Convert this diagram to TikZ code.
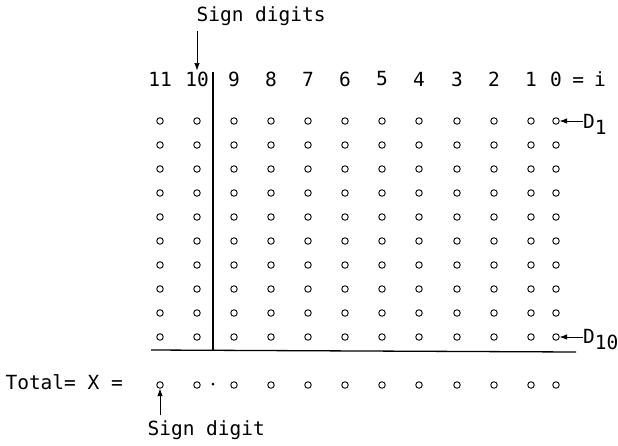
\documentclass[tikz,border=0pt]{standalone}
\usepackage{fontspec}
\setmonofont{DejaVu Sans Mono}
\usetikzlibrary{arrows.meta,positioning}
\begin{document}
\begin{tikzpicture}[x=1pt,y=-1pt,every node/.style={font=\ttfamily\fontsize{19.5}{22}\selectfont},head/.style={inner sep=1pt},bit/.style={circle,draw,line width=0.9pt,inner sep=0pt,minimum size=6.5pt},pt/.style={circle,fill,inner sep=0pt,minimum size=3pt},arrow/.style={-{Latex[length=2.6mm,width=1.9mm]},semithick},rule/.style={line width=1.3pt}]
\useasboundingbox (0,0) rectangle (618,445);
\node[anchor=west] (top) at (193,16) {Sign digits};
\foreach \i/\x in {11/160,10/197,9/234,8/271,7/308,6/345,5/382,4/419,3/457,2/494,1/531,0/556}{
  \node[head] (h\i) at (\x,79) {\i};
  \foreach \r in {1,...,10} \node[bit] (b\r-\i) at (\x,{121+24*(\r-1)}) {};
  \node[bit] (t\i) at (\x,385) {};
}
\node[head,anchor=west] (eq) at ([xshift=8pt]h0.east) {=\hspace{10pt}i};
\coordinate (vtop) at (213,72);\coordinate (vbot) at (213,351);
\coordinate (hl) at (151,350);\coordinate (hr) at (576,352);
\draw[rule] (vtop)--(vbot);\draw[rule] (hl)--(hr);
\node[pt] (radix) at (213,384) {};
\node[anchor=west] (tot) at (2,382) {Total=~X~=};
\node[anchor=west,inner sep=0pt] (d1) at (583,124) {D\raisebox{-6pt}{1}};
\node[anchor=west,inner sep=0pt] (d10) at (583,340) {D\raisebox{-6pt}{10}};
\node[anchor=west] (bot) at (144,430) {Sign digit};
\draw[arrow] ([yshift=-2pt]top.south -| h10)--(h10.north);
\draw[arrow] (d1.west |- b1-0)--(b1-0.east);
\draw[arrow] (d10.west |- b10-0)--(b10-0.east);
\draw[arrow] ([yshift=2pt]bot.north -| t11)--(t11.south);
\end{tikzpicture}
\end{document}
